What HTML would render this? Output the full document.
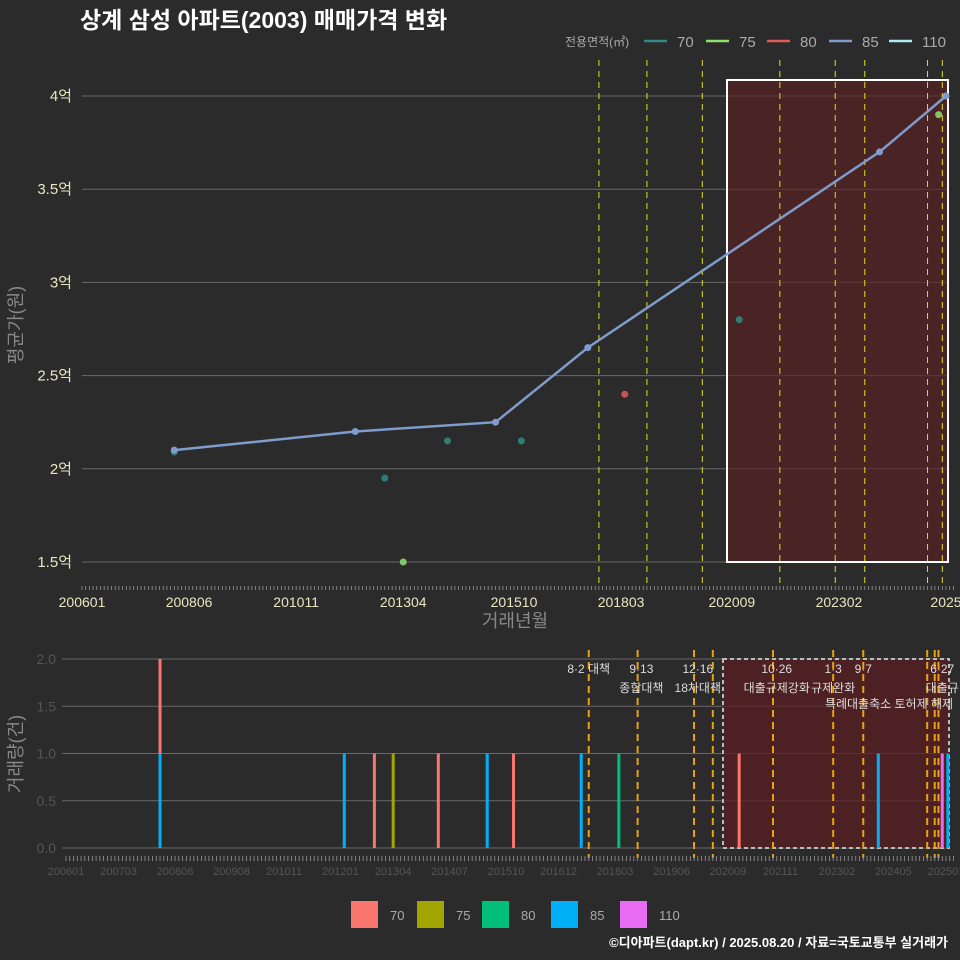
<!DOCTYPE html>
<html><head><meta charset="utf-8">
<style>
html,body{margin:0;padding:0;background:#2b2b2b;}
svg{display:block;font-family:"Liberation Sans","Noto Sans CJK KR",sans-serif;}
</style></head>
<body>
<svg id="chart" width="960" height="960" viewBox="0 0 960 960">
<rect width="960" height="960" fill="#2b2b2b"/>
<text x="80" y="28" fill="#ffffff" font-size="23" font-weight="bold">상계 삼성 아파트(2003) 매매가격 변화</text>
<text x="948" y="947" fill="#ffffff" font-size="13" font-weight="bold" text-anchor="end">©디아파트(dapt.kr) / 2025.08.20 / 자료=국토교통부 실거래가</text>
<g id="topPanel"></g>
<g id="botPanel"></g>
</svg>
<script>
// ---- data ----
const sizeCats = ["70","75","80","85","110"];
const topColors = ["#2e8b86","#8ee06e","#e05a5a","#7f9ccc","#a8eef0"];
const botColors = ["#f8766d","#a3a500","#00bf7d","#00b0f6","#e76bf3"];
// 85㎡ line (month index since 2006-01, price in 억)
const line85Months = [25, 74, 112, 137, 216, 234];
const line85Values = [2.10, 2.20, 2.25, 2.65, 3.70, 4.00];
// scattered points
const ptCats   = ["70","70","70","70","70","75","75","80"];
const ptMonths = [25, 82, 99, 119, 178, 87, 232, 147];
const ptValues = [2.09, 1.95, 2.15, 2.15, 2.80, 1.50, 3.90, 2.40];
const priceTicks = [1.5, 2, 2.5, 3, 3.5, 4];
const priceTickLabels = ["1.5억","2억","2.5억","3억","3.5억","4억"];
const xTickMonths = [0, 29, 58, 87, 117, 146, 176, 205, 234];
const xTickLabels = ["200601","200806","201011","201304","201510","201803","202009","202302","2025"];
const botTickMonths = [0,14,29,44,58,73,87,102,117,131,146,161,176,190,205,220,234];
const botTickLabels = ["200601","200703","200806","200908","201011","201201","201304","201407","201510","201612","201803","201906","202009","202111","202302","202405","202507"];
// volume bars
const barMonths = [25, 25, 74, 82, 87, 99, 112, 119, 137, 147, 179, 216, 233, 234.5];
const barCats   = ["85","70","85","70","75","70","85","70","85","80","70","85","110","85"];
const barCounts = [1, 1, 1, 1, 1, 1, 1, 1, 1, 1, 1, 1, 1, 1];
const volTicks = [0, 0.5, 1.0, 1.5, 2.0];
// policy events (months)
const policyMonths = [139, 152, 167, 172, 188, 204, 212, 229, 231, 232];
const policyTop = [140, 153, 168, 189, 204, 212, 229, 233];
const policyLabels = [["8·2 대책",139,""],["9·13",153,"종합대책"],["12·16",168,"18차대책"],["10·26",189,"대출규제강화"],["1·3",204,"규제완화"],["9·7",212,""],["6·27",233,"대출규"]];

const NS="http://www.w3.org/2000/svg";
function mk(parent,tag,attrs,text){const e=document.createElementNS(NS,tag);for(const k in attrs)e.setAttribute(k,attrs[k]);if(text!==undefined)e.textContent=text;parent.appendChild(e);return e;}
const topG=document.getElementById('topPanel'), botG=document.getElementById('botPanel');

// top axes
const tx=m=>82+m*(864/234);
const ty=v=>562-(v-1.5)*186.4;
priceTicks.forEach((v,i)=>{
  const g=mk(topG,'line',{x1:82,x2:948,y1:ty(v),y2:ty(v),stroke:'#6a6a6a','stroke-width':1});
  
  
  const t=mk(topG,'text',{x:72,y:ty(v)+5,fill:'#e8e8c0','font-size':15,'text-anchor':'end'},priceTickLabels[i]);
  
  
});
const sr=mk(topG,'rect',{x:727,y:80,width:221,height:482,fill:'#5a1f22','fill-opacity':0.65,stroke:'#ffffff','stroke-width':2});


for(let m=0;m<=236;m+=1){mk(topG,'line',{x1:tx(m),x2:tx(m),y1:586,y2:590,stroke:'#999999','stroke-width':0.8});}
xTickMonths.forEach((m,i)=>{
  const t=mk(topG,'text',{x:tx(m),y:607,fill:'#e8e8c0','font-size':14,'text-anchor':'middle'},xTickLabels[i]);
  
  
});
policyTop.forEach(m=>{
  const l=mk(topG,'line',{x1:tx(m),x2:tx(m),y1:60,y2:585,stroke:'#e0e020','stroke-width':1,'stroke-dasharray':'6,5'});
  
  
});
const yt=mk(topG,'text',{x:0,y:0,fill:'#888','font-size':18,'text-anchor':'middle',transform:'translate(22,325) rotate(-90)'},'평균가(원)');


const xt=mk(topG,'text',{x:515,y:627,fill:'#888','font-size':18,'text-anchor':'middle'},'거래년월');


const pl=mk(topG,'polyline',{points:line85Months.map((m,i)=>tx(m)+','+ty(line85Values[i])).join(' '),fill:'none',stroke:'#7f9ccc','stroke-width':2.5});


ptMonths.forEach((m,i)=>{
  const c=mk(topG,'circle',{cx:tx(m),cy:ty(ptValues[i]),r:3.5,fill:topColors[sizeCats.indexOf(ptCats[i])],'fill-opacity':0.85});
  
  
});
line85Months.forEach((m,i)=>{
  const c=mk(topG,'circle',{cx:tx(m),cy:ty(line85Values[i]),r:3.5,fill:'#7f9ccc'});
  
  
});
const lg=mk(topG,'g',{});


mk(lg,'text',{x:565,y:46,fill:'#aaa','font-size':12},'전용면적(㎡)');
const lx=[644,706,767,829,889];
sizeCats.forEach((c,i)=>{
  const l=mk(lg,'line',{x1:lx[i],x2:lx[i]+23,y1:41,y2:41,stroke:topColors[i],'stroke-width':2.5});
  
  
  mk(lg,'text',{x:lx[i]+33,y:47,fill:'#aaa','font-size':15},c);
});

// bottom axes
const bx=m=>66+m*(880/234);
const by=v=>848-v*94.5;
volTicks.forEach(v=>{
  const l=mk(botG,'line',{x1:62,x2:948,y1:by(v),y2:by(v),stroke:'#6a6a6a','stroke-width':1});
  
  
  const t=mk(botG,'text',{x:56,y:by(v)+5,fill:'#555','font-size':14,'text-anchor':'end'},v.toFixed(1));
  
  
});
const br=mk(botG,'rect',{x:723,y:659,width:226,height:189,fill:'#5a1f22','fill-opacity':0.75,stroke:'#bbbbbb','stroke-width':2,'stroke-dasharray':'4,3'});


const stack={};
barMonths.forEach((m,i)=>{
  const base=stack[m]||0;
  const ci=sizeCats.indexOf(barCats[i]);
  const r=mk(botG,'rect',{x:bx(m)-1.5,y:by(base+barCounts[i]),width:3,height:by(base)-by(base+barCounts[i]),fill:botColors[ci]});
  
  
  stack[m]=base+barCounts[i];
});
policyMonths.forEach(m=>{
  const l=mk(botG,'line',{x1:bx(m),x2:bx(m),y1:650,y2:858,stroke:'#e6a21a','stroke-width':2,'stroke-dasharray':'7,5'});
  
  
});
policyLabels.forEach(p=>{
  const t=mk(botG,'text',{x:bx(p[1]),y:673,fill:'#ddd','font-size':12,'text-anchor':'middle'},p[0]);
  
  
  if(p[2]){mk(botG,'text',{x:bx(p[1]),y:692,fill:'#ddd','font-size':12,'text-anchor':'middle'},p[2]);}
});
mk(botG,'text',{x:889,y:708,fill:'#ddd','font-size':12,'text-anchor':'middle'},'특례대출축소 토허제 해제');
for(let m=0;m<=236;m+=1){mk(botG,'line',{x1:bx(m),x2:bx(m),y1:856,y2:861,stroke:'#999999','stroke-width':0.8});}
botTickMonths.forEach((m,i)=>{
  const t=mk(botG,'text',{x:bx(m),y:875,fill:'#555','font-size':11,'text-anchor':'middle'},botTickLabels[i]);
  
  
});
const vt=mk(botG,'text',{x:0,y:0,fill:'#888','font-size':18,'text-anchor':'middle',transform:'translate(22,754) rotate(-90)'},'거래량(건)');


const blx=[351,417,482,551,620];
sizeCats.forEach((c,i)=>{
  const r=mk(botG,'rect',{x:blx[i],y:901,width:27,height:27,fill:botColors[i]});
  
  
  mk(botG,'text',{x:blx[i]+39,y:920,fill:'#aaa','font-size':13},c);
});
</script>
</body></html>
